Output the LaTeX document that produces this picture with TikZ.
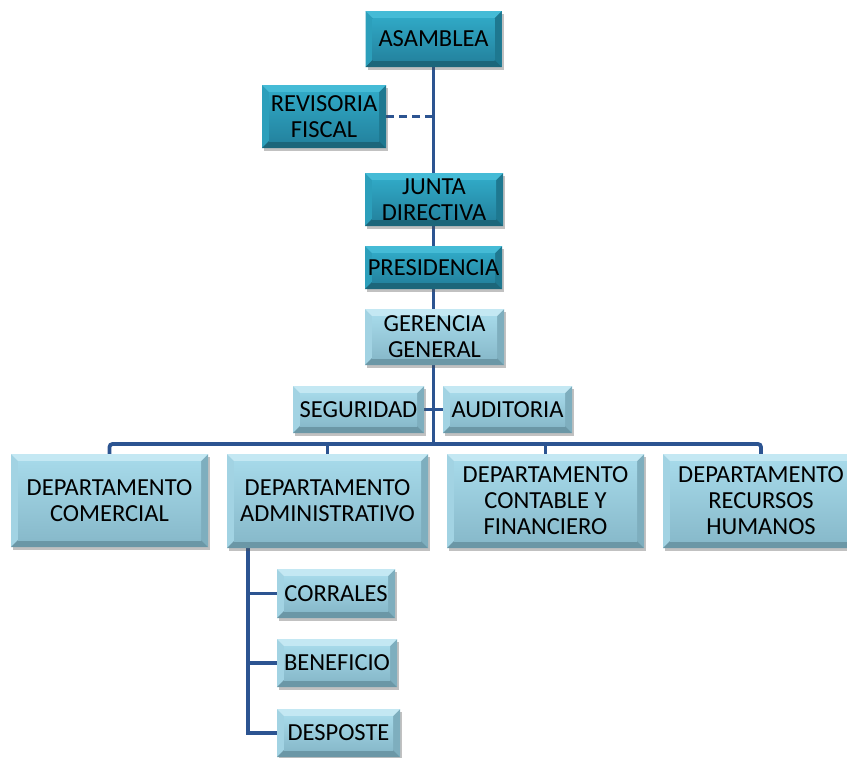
\documentclass[tikz,border=0pt]{standalone}
\usepackage{fontspec}
\setmainfont{Carlito}
\usetikzlibrary{shadows,backgrounds}
\definecolor{lnblue}{HTML}{2C5491}
\definecolor{dTop}{HTML}{45BBD6}
\definecolor{dBot}{HTML}{1C667A}
\definecolor{dLeft}{HTML}{2C9FBB}
\definecolor{dRight}{HTML}{1E7890}
\definecolor{dFaceT}{HTML}{30A8C5}
\definecolor{dFaceB}{HTML}{2484A0}
\definecolor{lTop}{HTML}{C4E8F3}
\definecolor{lBot}{HTML}{6B97A6}
\definecolor{lLeft}{HTML}{A2D3E3}
\definecolor{lRight}{HTML}{7EAEBE}
\definecolor{lFaceT}{HTML}{A6D9E9}
\definecolor{lFaceB}{HTML}{88BACB}
\newcommand\bevelpic[6]{%
  \path (path picture bounding box.south west) coordinate (bvsw)
        (path picture bounding box.north east) coordinate (bvne)
        (path picture bounding box.north west) coordinate (bvnw)
        (path picture bounding box.south east) coordinate (bvse);
  \fill[#3] (bvnw) -- ([shift={(7pt,-7pt)}]bvnw) -- ([shift={(7pt,7pt)}]bvsw) -- (bvsw) -- cycle;
  \fill[#4] (bvne) -- ([shift={(-7pt,-7pt)}]bvne) -- ([shift={(-7pt,7pt)}]bvse) -- (bvse) -- cycle;
  \fill[#1] (bvnw) -- (bvne) -- ([shift={(-7pt,-7pt)}]bvne) -- ([shift={(7pt,-7pt)}]bvnw) -- cycle;
  \fill[#2] (bvsw) -- (bvse) -- ([shift={(-7pt,7pt)}]bvse) -- ([shift={(7pt,7pt)}]bvsw) -- cycle;
  \shade[top color=#5,bottom color=#6] ([shift={(7pt,-7pt)}]bvnw) rectangle ([shift={(-7pt,7pt)}]bvse);
}
\tikzset{
  box/.style={rectangle, align=center, inner sep=0pt, text=black,
    font=\fontsize{24.5}{26}\selectfont,
    drop shadow={shadow xshift=2pt, shadow yshift=-3pt, opacity=0.35, fill=black!70}},
  darkbox/.style={box, fill=dFaceB,
    path picture={\bevelpic{dTop}{dBot}{dLeft}{dRight}{dFaceT}{dFaceB}}},
  lightbox/.style={box, fill=lFaceB,
    path picture={\bevelpic{lTop}{lBot}{lLeft}{lRight}{lFaceT}{lFaceB}}},
  conn/.style={draw=lnblue, line width=3.8pt},
}
\begin{document}
\begin{tikzpicture}[x=1pt,y=-1pt]
\useasboundingbox (0,0) rectangle (847,758);
\clip (0,0) rectangle (847,758);
\node[darkbox, minimum width=136pt, minimum height=56pt] (asam) at (433.5,39) {ASAMBLEA};
\node[darkbox, minimum width=124pt, minimum height=63pt] (rev) at (324,116.5) {REVISORIA\\FISCAL};
\node[darkbox, minimum width=138pt, minimum height=53pt] (junta) at (434,199.5) {JUNTA\\DIRECTIVA};
\node[darkbox, minimum width=137pt, minimum height=43pt] (pres) at (433.5,267.5) {PRESIDENCIA};
\node[lightbox, minimum width=139pt, minimum height=56pt] (ger) at (434.5,337) {GERENCIA\\GENERAL};
\node[lightbox, minimum width=131pt, minimum height=47pt] (seg) at (358.5,409.5) {SEGURIDAD};
\node[lightbox, minimum width=129pt, minimum height=47pt] (aud) at (507.5,409.5) {AUDITORIA};
\node[lightbox, minimum width=197pt, minimum height=93pt] (dcom) at (109.5,500.5) {DEPARTAMENTO\\COMERCIAL};
\node[lightbox, minimum width=201pt, minimum height=94pt] (dadm) at (327.5,501) {DEPARTAMENTO\\ADMINISTRATIVO};
\node[lightbox, minimum width=197pt, minimum height=94pt] (dcon) at (545.5,501) {DEPARTAMENTO\\CONTABLE Y\\FINANCIERO};
\node[lightbox, minimum width=196pt, minimum height=94pt] (drh) at (761,501) {DEPARTAMENTO\\RECURSOS\\HUMANOS};
\node[lightbox, minimum width=118pt, minimum height=49pt] (corr) at (336,593.5) {CORRALES};
\node[lightbox, minimum width=120pt, minimum height=48pt] (ben) at (337,663) {BENEFICIO};
\node[lightbox, minimum width=123pt, minimum height=48pt] (desp) at (338.5,733) {DESPOSTE};
\coordinate (bus) at (434,444);
\coordinate (stem) at (248,0);
\begin{scope}[on background layer]
\draw[conn] (asam.south) -- (asam.south |- bus);
\draw[conn, dash pattern=on 8pt off 5pt] (rev.east) -- (rev.east -| asam.south);
\draw[conn] (seg.east) -- (aud.west);
\draw[conn, rounded corners=3pt] (dcom.north) -- (dcom.north |- bus) -- (drh.north |- bus) -- (drh.north);
\draw[conn] (dadm.north) -- (dadm.north |- bus);
\draw[conn] (dcon.north) -- (dcon.north |- bus);
\draw[conn] (dadm.south -| stem) -- (stem |- desp.west) -- (desp.west);
\draw[conn] (stem |- corr.west) -- (corr.west);
\draw[conn] (stem |- ben.west) -- (ben.west);
\end{scope}
\end{tikzpicture}
\end{document}
